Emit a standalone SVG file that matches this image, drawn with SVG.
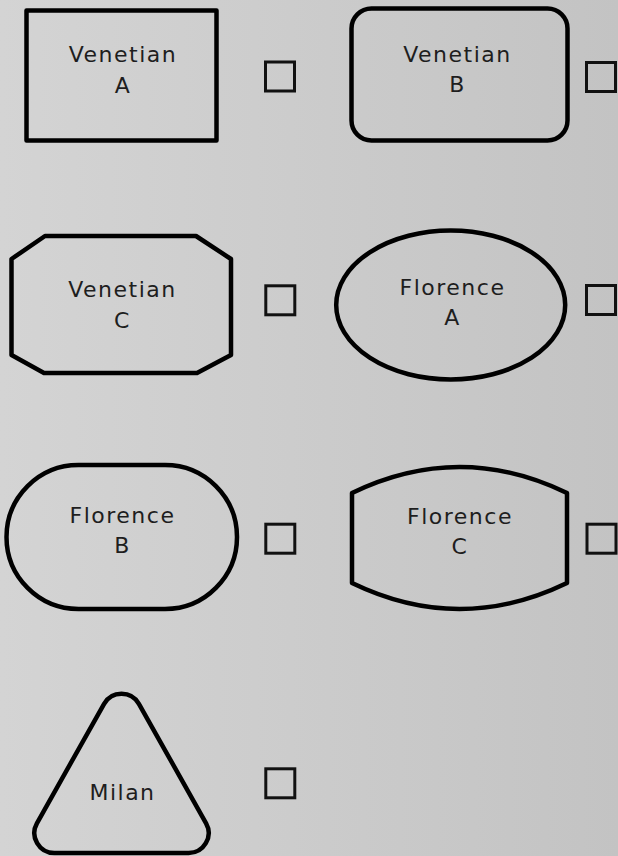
<svg xmlns="http://www.w3.org/2000/svg" width="618" height="856" viewBox="0 0 618 856">
<defs>
<linearGradient id="bg" x1="0" y1="0" x2="1" y2="0">
<stop offset="0" stop-color="#d4d4d4"/>
<stop offset="1" stop-color="#c3c3c3"/>
</linearGradient>
</defs>
<style>
.shape{fill:none;stroke:#000;stroke-width:4.5;stroke-linejoin:round}
.box{fill:none;stroke:#111;stroke-width:3}
text{font-family:"DejaVu Sans","Liberation Sans",sans-serif;font-size:22px;fill:#1e1e1e;text-anchor:middle;letter-spacing:1.5px}
</style>
<rect x="0" y="0" width="618" height="856" fill="url(#bg)"/>
<g id="venetian-a">
<rect class="shape" x="26.5" y="10.5" width="190" height="130" stroke-linejoin="miter"/>
<text x="123" y="62">Venetian</text>
<text x="123" y="93">A</text>
</g>
<g id="venetian-b">
<rect class="shape" x="351.5" y="8.5" width="216" height="132" rx="20" ry="20"/>
<text x="457.5" y="62">Venetian</text>
<text x="457.5" y="92">B</text>
</g>
<g id="venetian-c">
<path class="shape" d="M45,236 L196,236 L231,259 L231,355 L197,373 L44,373 L11.5,355 L11.5,259 Z"/>
<text x="122.5" y="297">Venetian</text>
<text x="122.5" y="328">C</text>
</g>
<g id="florence-a">
<ellipse class="shape" cx="450.7" cy="305" rx="114.5" ry="74.5"/>
<text x="452.5" y="295">Florence</text>
<text x="452.5" y="325">A</text>
</g>
<g id="florence-b">
<rect class="shape" x="6.5" y="465" width="230.5" height="144" rx="72" ry="72"/>
<text x="122.5" y="523">Florence</text>
<text x="122.5" y="553">B</text>
</g>
<g id="florence-c">
<path class="shape" d="M352,493 Q459.5,441 567,493 L567,583 Q459.5,635 352,583 Z"/>
<text x="460" y="524">Florence</text>
<text x="460" y="554">C</text>
</g>
<g id="milan">
<path class="shape" d="M104.1,703.8 A20,20 0 0 1 138.9,703.8 L206.1,823.3 A20,20 0 0 1 188.5,853 L54.3,853 A20,20 0 0 1 36.9,823.3 Z"/>
<text x="122.5" y="800">Milan</text>
</g>
<g id="checkboxes">
<rect class="box" x="265.5" y="62" width="29" height="29"/>
<rect class="box" x="586.5" y="62.5" width="29" height="29"/>
<rect class="box" x="265.8" y="285.8" width="29" height="29"/>
<rect class="box" x="586.5" y="285.5" width="29" height="29"/>
<rect class="box" x="265.8" y="524.2" width="29" height="29"/>
<rect class="box" x="587" y="524.2" width="29" height="29"/>
<rect class="box" x="265.8" y="768.8" width="29" height="29"/>
</g>
<g id="connectors"/>
</svg>
